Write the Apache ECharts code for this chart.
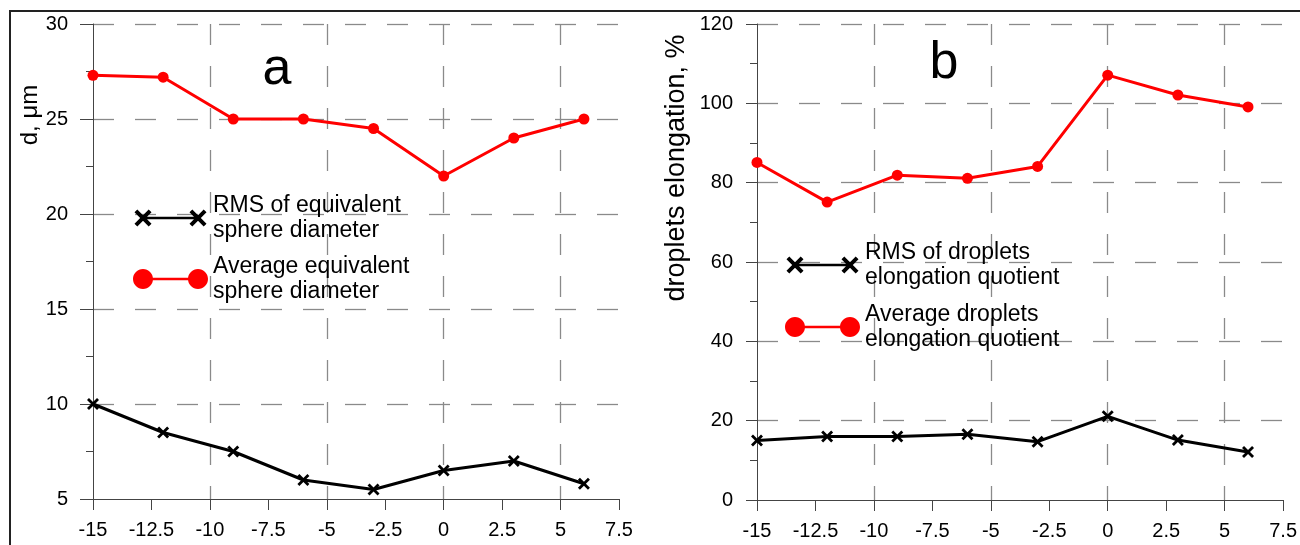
<!DOCTYPE html>
<html><head><meta charset="utf-8">
<script src="https://cdn.jsdelivr.net/npm/echarts@6/dist/echarts.min.js"></script>
<style>html,body{margin:0;padding:0;background:#fff}#c{width:1300px;height:545px}</style>
</head><body><div id="c"></div>
<script>
// ---- data ----
const xValues = [-15, -12, -9, -6, -3, 0, 3, 6];
const rmsDiameter = [10, 8.5, 7.5, 6, 5.5, 6.5, 7, 5.8];
const avgDiameter = [27.3, 27.2, 25, 25, 24.5, 22, 24, 25];
const rmsElongation = [15, 16, 16, 16.6, 14.7, 21.1, 15.1, 12.1];
const avgElongation = [85.1, 75.1, 81.9, 81.1, 84.1, 107.1, 102.1, 99.1];
const seriesNamesA = ['RMS of equivalent\nsphere diameter', 'Average equivalent\nsphere diameter'];
const seriesNamesB = ['RMS of droplets\nelongation quotient', 'Average droplets\nelongation quotient'];
const yTitles = ['d, μm', 'droplets elongation, %'];
const panelLetters = ['a', 'b'];
const xRange = [-15, 7.5];
const yRangeA = [5, 30];
const yRangeB = [0, 120];

// ---- helpers ----
const FONT = '"Liberation Sans", Arial, Helvetica, sans-serif';
const AXIS_COLOR = '#444';
const GRID_STYLE = {color: '#8a8a8a', width: 1.3, type: [21, 21]};
function f(n){return +n.toFixed(3);}
function xPath(cx, cy, s, t) {
  const p = [[-s,-s+t],[-s+t,-s],[0,-t],[s-t,-s],[s,-s+t],[t,0],[s,s-t],[s-t,s],[0,t],[-s+t,s],[-s,s-t],[-t,0]];
  return 'M' + p.map(q => f(cx+q[0]) + ',' + f(cy+q[1])).join(' L') + ' Z ';
}
function circ(cx, cy, r) {
  const k = 0.5523 * r;
  return `M${f(cx+r)},${f(cy)} C${f(cx+r)},${f(cy+k)} ${f(cx+k)},${f(cy+r)} ${f(cx)},${f(cy+r)} ` +
         `C${f(cx-k)},${f(cy+r)} ${f(cx-r)},${f(cy+k)} ${f(cx-r)},${f(cy)} ` +
         `C${f(cx-r)},${f(cy-k)} ${f(cx-k)},${f(cy-r)} ${f(cx)},${f(cy-r)} ` +
         `C${f(cx+k)},${f(cy-r)} ${f(cx+r)},${f(cy-k)} ${f(cx+r)},${f(cy)} Z `;
}
function rect(x1, y1, x2, y2) { return `M${x1},${y1} L${x2},${y1} L${x2},${y2} L${x1},${y2} Z `; }
function dot(x, y) { return `M${x},${y} L${x+0.01},${y} L${x},${y+0.01} Z `; }

const legendXIcon = 'path://' + dot(0,0) + dot(74.99,19.99) + rect(10,8.7,65,11.3) + xPath(10,10,8.5,2.8) + xPath(65,10,8.5,2.8);
const legendOIcon = 'path://' + rect(19,8.7,56,11.3) + circ(10,10,10) + circ(65,10,10);
const xSymbol = 'path://' + xPath(10,10,10,3.3);

function mainX(grid) {
  return {
    type: 'value', gridIndex: grid, min: xRange[0], max: xRange[1], interval: 2.5,
    axisLine: {show: true, onZero: false, lineStyle: {color: AXIS_COLOR, width: 1}},
    axisTick: {show: true, length: 11, lineStyle: {color: AXIS_COLOR}},
    axisLabel: {color: '#000', fontSize: 20, fontFamily: FONT, margin: 21},
    splitLine: {show: false}
  };
}
function gridX(grid) {
  return {
    type: 'value', gridIndex: grid, min: xRange[0], max: xRange[1], interval: 5, position: 'bottom',
    axisLine: {show: false}, axisTick: {show: false}, axisLabel: {show: false},
    splitLine: {show: true, showMinLine: false, showMaxLine: false, lineStyle: GRID_STYLE}
  };
}
function yAx(grid, range, interval, tickLen, margin) {
  return {
    type: 'value', gridIndex: grid, min: range[0], max: range[1], interval: interval,
    axisLine: {show: true, onZero: false, lineStyle: {color: AXIS_COLOR, width: 1}},
    axisTick: {show: true, length: tickLen, lineStyle: {color: AXIS_COLOR}},
    minorTick: {show: true, splitNumber: 2, length: 7, lineStyle: {color: AXIS_COLOR}},
    axisLabel: {color: '#000', fontSize: 20, fontFamily: FONT, margin: margin},
    splitLine: {show: true, showMinLine: false, lineStyle: GRID_STYLE}
  };
}
const pts = ys => xValues.map((x, i) => [x, ys[i]]);
function lineSeries(name, xi, yi, ys, color, isX) {
  return {
    name: name, type: 'line', xAxisIndex: xi, yAxisIndex: yi, data: pts(ys),
    symbol: isX ? xSymbol : 'circle', symbolSize: isX ? 12 : 11,
    itemStyle: {color: color, borderWidth: 0},
    lineStyle: {color: color, width: 3},
    z: isX ? 3 : 2
  };
}
const legendText = {fontSize: 23, lineHeight: 25, fontFamily: FONT, color: '#000'};
const textStyle = (size) => ({fontSize: size, fontFamily: FONT, fill: '#000', align: 'center', verticalAlign: 'middle', textAlign: 'center', textVerticalAlign: 'middle'});

const option = {
  animation: false,
  backgroundColor: '#fff',
  grid: [
    {left: 93, top: 24, width: 526, height: 475},
    {left: 757, top: 24, width: 527, height: 476}
  ],
  xAxis: [mainX(0), gridX(0), mainX(1), gridX(1)],
  yAxis: [yAx(0, yRangeA, 5, 13, 25), yAx(1, yRangeB, 20, 11, 24)],
  legend: [
    {data: [{name: seriesNamesA[0], icon: legendXIcon}, {name: seriesNamesA[1], icon: legendOIcon}],
     orient: 'vertical', left: 133, top: 193, itemWidth: 75, itemHeight: 20, itemGap: 11, padding: 0,
     textStyle: legendText, itemStyle: {borderWidth: 0}, selectedMode: false},
    {data: [{name: seriesNamesB[0], icon: legendXIcon}, {name: seriesNamesB[1], icon: legendOIcon}],
     orient: 'vertical', left: 785, top: 240, itemWidth: 75, itemHeight: 20, itemGap: 12, padding: 0,
     textStyle: legendText, itemStyle: {borderWidth: 0}, selectedMode: false}
  ],
  series: [
    lineSeries(seriesNamesA[0], 0, 0, rmsDiameter, '#000', true),
    lineSeries(seriesNamesA[1], 0, 0, avgDiameter, '#ff0000', false),
    lineSeries(seriesNamesB[0], 2, 1, rmsElongation, '#000', true),
    lineSeries(seriesNamesB[1], 2, 1, avgElongation, '#ff0000', false)
  ],
  graphic: [
    {type: 'rect', silent: true, shape: {x: 10, y: 11, width: 1400, height: 700},
     style: {fill: 'none', stroke: '#222', lineWidth: 2}},
    {type: 'text', x: 30, y: 115, rotation: Math.PI / 2, style: Object.assign({text: yTitles[0]}, textStyle(24))},
    {type: 'text', x: 677, y: 168, rotation: Math.PI / 2, style: Object.assign({text: yTitles[1]}, textStyle(27))},
    {type: 'text', x: 277, y: 70, style: Object.assign({text: panelLetters[0]}, textStyle(52))},
    {type: 'text', x: 944, y: 64, style: Object.assign({text: panelLetters[1]}, textStyle(52))}
  ]
};
const chart = echarts.init(document.getElementById('c'), null, {renderer: 'canvas'});
chart.setOption(option);
</script>
</body></html>
